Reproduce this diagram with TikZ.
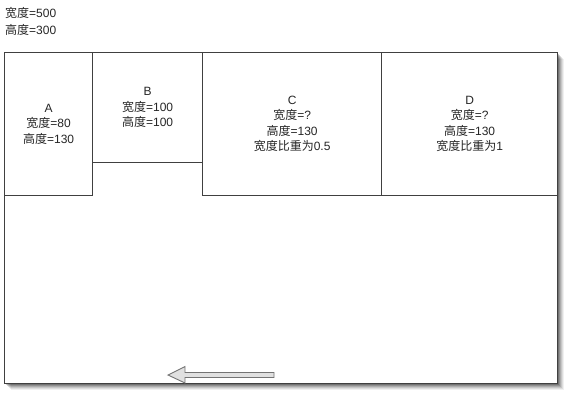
\documentclass[tikz,border=0pt]{standalone}
\usepackage{fontspec}
\setmainfont{Liberation Sans}
\newfontfamily\cjk{Noto Sans CJK SC}
\newcommand{\zh}[1]{{\cjk #1}}
\usetikzlibrary{positioning}
\begin{document}
\begin{tikzpicture}[x=1pt,y=-1pt,
  box/.style={draw=black!75,line width=1.2pt,fill=white,inner sep=0pt,
    font=\fontsize{12}{15.5}\selectfont,align=center,text=black!85},
  txt/.style={inner sep=0pt,font=\fontsize{12}{16.5}\selectfont,align=left,text=black!85},
  bigarrow/.style={draw=black!55,fill=black!12,line width=0.9pt,line join=miter}]
\useasboundingbox (0,0) rectangle (570,400);
% shadow (soft)
\foreach \i/\o in {7/0.06,6/0.08,5/0.10,4/0.13,3/0.16,2/0.2,1/0.25}{
  \fill[black,opacity=\o] (4+\i,52+\i) rectangle (557+\i,383+\i);
}
\node[txt,anchor=north west] (title) at (5,7.5) {\zh{宽度}=500\\\zh{高度}=300};
\node[box,minimum width=553pt,minimum height=331pt,anchor=north west] (outer) at (4,52) {};
\node[box,minimum width=88pt,minimum height=143pt,anchor=north west] (A) at (4,52) {A\\\zh{宽度}=80\\\zh{高度}=130};
\node[box,minimum width=110pt,minimum height=110pt,anchor=north west] (B) at (92,52) {B\\\zh{宽度}=100\\\zh{高度}=100};
\node[box,minimum width=179pt,minimum height=143pt,anchor=north west] (C) at (202,52) {C\\\zh{宽度}=?\\\zh{高度}=130\\\zh{宽度比重为}0.5};
\node[box,minimum width=176pt,minimum height=143pt,anchor=north west] (D) at (381,52) {D\\\zh{宽度}=?\\\zh{高度}=130\\\zh{宽度比重为}1};
\coordinate (tip) at (168,375);
\draw[bigarrow] (tip) -- (185,366.5) -- (185,372.5) -- (274,372.5) -- (274,377.5) -- (185,377.5) -- (185,383) -- cycle;
\end{tikzpicture}
\end{document}
